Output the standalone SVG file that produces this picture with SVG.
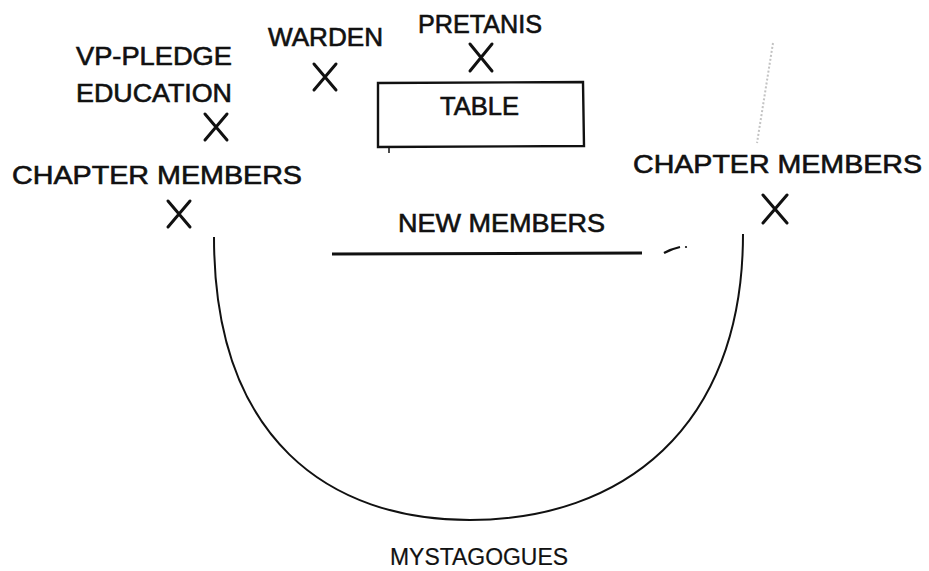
<svg xmlns="http://www.w3.org/2000/svg" width="929" height="571" viewBox="0 0 929 571">
<style>
.t{font-family:"Liberation Sans",Arial,sans-serif;font-size:25px;fill:#111;stroke:#111;stroke-width:0.6}
.x{stroke:#111;stroke-width:3;fill:none;stroke-linecap:round}
.ln{stroke:#111;fill:none}
</style>
<rect width="929" height="571" fill="#fff"/>
<g id="vp-pledge">
<text class="t" x="76" y="65" textLength="156" lengthAdjust="spacingAndGlyphs">VP-PLEDGE</text>
<text class="t" x="76" y="102" textLength="156" lengthAdjust="spacingAndGlyphs">EDUCATION</text>
<path class="x" d="M205,114 L227,140 M227,114 L205,140"/>
</g>
<g id="warden">
<text class="t" x="268" y="46" textLength="115" lengthAdjust="spacingAndGlyphs">WARDEN</text>
<path class="x" d="M314,64 L336,90 M336,64 L314,90"/>
</g>
<g id="pretanis">
<text class="t" x="418" y="33" textLength="124" lengthAdjust="spacingAndGlyphs">PRETANIS</text>
<path class="x" d="M470,44 L492,71 M492,44 L470,71"/>
</g>
<g id="table">
<path class="ln" stroke-width="2.4" d="M378,83 L583,82 L584,146 L378,147 Z"/>
<path class="ln" stroke-width="1.5" d="M389,147 L389,153"/>
<text class="t" x="440" y="115" textLength="79" lengthAdjust="spacingAndGlyphs">TABLE</text>
</g>
<g id="chapter-left">
<text class="t" x="12" y="184" textLength="290" lengthAdjust="spacingAndGlyphs">CHAPTER MEMBERS</text>
<path class="x" d="M168,201 L190,227 M190,201 L168,227"/>
</g>
<g id="chapter-right">
<text class="t" x="633" y="173" textLength="289" lengthAdjust="spacingAndGlyphs">CHAPTER MEMBERS</text>
<path class="x" d="M763,195 L787,223 M787,195 L763,223"/>
</g>
<g id="new-members">
<text class="t" x="398" y="232" textLength="207" lengthAdjust="spacingAndGlyphs">NEW MEMBERS</text>
<path class="ln" stroke-width="3" d="M332,254 L642,253"/>
</g>
<g id="mystagogues">
<text class="t" x="390" y="565" style="stroke-width:0.2;font-size:23px" textLength="178" lengthAdjust="spacingAndGlyphs">MYSTAGOGUES</text>
</g>
<g id="connectors">
<path class="ln" stroke-width="2" d="M214,237 C214,440 330,520 470,520 C620,520 743,430 743,234"/>
</g>
<g id="marks">
<path class="ln" stroke-width="2.2" d="M664,253 Q671,249 680,247"/>
<circle cx="686" cy="247" r="1.1" fill="#111"/>
<path d="M773,43 L757,143" stroke="#888" stroke-width="2" fill="none" opacity="0.5" stroke-dasharray="2 2"/>
</g>
</svg>
